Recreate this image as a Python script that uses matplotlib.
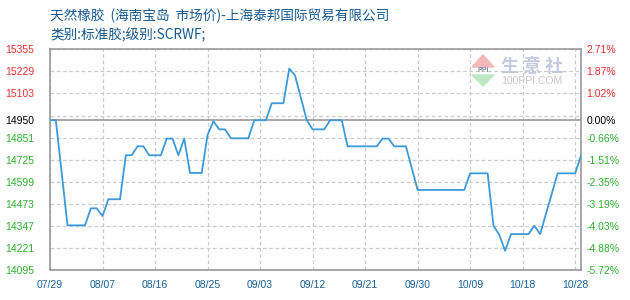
import numpy as np
import matplotlib
matplotlib.use('Agg')
import matplotlib.pyplot as plt
from matplotlib.patches import Polygon

plt.rcParams['font.family'] = ['Liberation Sans', 'Noto Sans CJK SC', 'DejaVu Sans']

# days counted from 07/29
days = [0, 1, 3, 6, 7, 8, 9, 10, 12, 13, 14, 15, 16, 17, 19, 20, 21, 22, 23, 24,
        26, 27, 28, 29, 30, 31, 34, 35, 37, 38, 40, 41, 42, 44, 45, 47, 48, 50, 51, 56,
        57, 58, 59, 61, 63, 71, 72, 75, 76, 77, 78, 79, 82, 83, 84, 87, 90, 91]
price = [14950, 14950, 14350, 14350, 14447, 14447, 14403, 14499, 14499, 14750,
         14750, 14801, 14801, 14750, 14750, 14845, 14845, 14750, 14845, 14649,
         14649, 14866, 14944, 14898, 14898, 14847, 14847, 14950, 14950, 15047,
         15047, 15245, 15205, 14950, 14898, 14898, 14950, 14950, 14801, 14801,
         14845, 14845, 14801, 14801, 14552, 14552, 14647, 14647, 14348, 14295,
         14205, 14300, 14300, 14348, 14300, 14647, 14647, 14750]

base = 14950
y_ticks = [15355, 15229, 15103, 14950, 14851, 14725, 14599, 14473, 14347, 14221, 14095]
grid_y = [15355, 15229, 15103, 14977, 14851, 14725, 14599, 14473, 14347, 14221, 14095]
pct_labels = ['2.71%', '1.87%', '1.02%', '0.00%', '-0.66%', '-1.51%', '-2.35%',
              '-3.19%', '-4.03%', '-4.88%', '-5.72%']
x_ticks = [0, 9, 18, 27, 36, 45, 54, 63, 72, 81, 90]
x_labels = ['07/29', '08/07', '08/16', '08/25', '09/03', '09/12', '09/21',
            '09/30', '10/09', '10/18', '10/28']

fig = plt.figure(figsize=(6.3, 3.0), dpi=100)
ax = fig.add_axes([50/630, 30/300, 531/630, 220.7/300])

for g in grid_y:
    ax.axhline(g, color='#cccccc', lw=0.9, ls=(0, (3, 2)), zorder=1)
for t in x_ticks:
    ax.axvline(t, color='#cccccc', lw=0.9, ls=(0, (3, 2)), zorder=1)
ax.axhline(base, color='#999999', lw=1.2, zorder=2)

ax.plot(days, price, color='#3d9ad8', lw=1.3, zorder=3)

ax.set_xlim(0, 91)
ax.set_ylim(14095, 15355)
for s in ax.spines.values():
    s.set_color('#999999')
    s.set_linewidth(1.2)

ax.set_xticks(x_ticks)
ax.set_xticklabels(x_labels, color='#1a5f96', fontsize=7.5)
ax.set_yticks(y_ticks)
ylab_colors = ['#f03030' if v > base else ('#000000' if v == base else '#2fb02f') for v in y_ticks]
ax.set_yticklabels([str(v) for v in y_ticks], fontsize=7.5)
for lab, c in zip(ax.get_yticklabels(), ylab_colors):
    lab.set_color(c)
ax.tick_params(axis='y', length=0, pad=11.5)
ax.tick_params(axis='x', length=0, pad=7)

ax2 = ax.twinx()
ax2.set_ylim(ax.get_ylim())
ax2.set_yticks(y_ticks)
ax2.set_yticklabels(pct_labels, fontsize=7.5)
for lab, c in zip(ax2.get_yticklabels(), ylab_colors):
    lab.set_color(c)
ax2.tick_params(length=0, pad=4)
for s in ax2.spines.values():
    s.set_visible(False)

# titles
fig.text(50/630, 1 - 16/300, '天然橡胶  (海南宝岛  市场价)-上海泰邦国际贸易有限公司',
         fontsize=9.8, color='#17598f', va='center', ha='left',
         family=['Noto Sans CJK SC', 'DejaVu Sans'])
fig.text(50/630, 1 - 35/300, '类别:标准胶;级别:SCRWF;',
         fontsize=9.8, color='#17598f', va='center', ha='left',
         family=['Noto Sans CJK SC', 'DejaVu Sans'])

# watermark logo
def px(x, y):
    return (x/630, 1 - y/300)
fig.patches.append(Polygon([px(472, 67), px(494, 67), px(483, 55)], closed=True,
                           transform=fig.transFigure, color='#f5b8b8', zorder=0))
fig.patches.append(Polygon([px(472, 75), px(494, 75), px(483, 86)], closed=True,
                           transform=fig.transFigure, color='#bde8c4', zorder=0))
fig.text(483/630, 1 - 71/300, 'PPI', fontsize=5, color='#8a94b0', ha='center', va='center',
         fontweight='bold')
fig.text(532/630, 1 - 66/300, '生 意 社', fontsize=13, color='#c4cadf', ha='center',
         va='center', family=['Noto Sans CJK SC', 'DejaVu Sans'], fontweight='bold')
fig.text(532/630, 1 - 81/300, '100PPI.COM', fontsize=7.5, color='#c8c8c8', ha='center',
         va='center')

plt.savefig('out.png', dpi=100)
